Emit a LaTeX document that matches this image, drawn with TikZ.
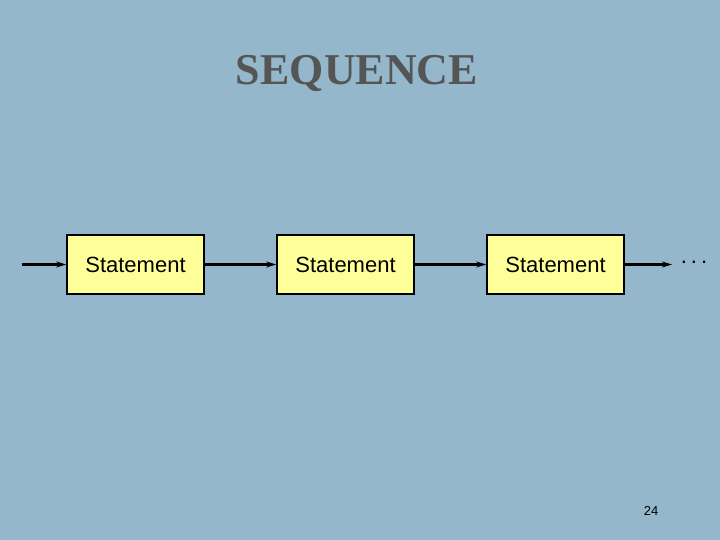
\documentclass[tikz,border=0pt]{standalone}
\usepackage{fontspec}
\setmainfont{Liberation Serif}
\setsansfont{Liberation Sans}
\usetikzlibrary{arrows.meta}
\definecolor{bg}{RGB}{148,183,204}
\definecolor{boxfill}{RGB}{255,255,153}
\definecolor{titlegray}{RGB}{85,85,85}
\begin{document}
\begin{tikzpicture}[x=1pt,y=-1pt,
  stmt/.style={draw=black,line width=1.5pt,fill=boxfill,minimum width=137pt,minimum height=59pt,inner sep=0pt,font=\sffamily\fontsize{22}{26}\selectfont},
  flow/.style={line width=2.5pt,-{Stealth[length=10pt,width=6pt]}}]
\fill[bg] (0,0) rectangle (720,540);
\useasboundingbox (0,0) rectangle (720,540);
\node[font=\bfseries\fontsize{44}{48}\selectfont,text=titlegray] (title) at (357,74) {SEQUENCE};
\node[stmt] (s1) at (135.5,264.5) {Statement};
\node[stmt] (s2) at (345.5,264.5) {Statement};
\node[stmt] (s3) at (555.5,264.5) {Statement};
\coordinate (in) at (22,264.5);
\coordinate (out) at (672,264.5);
\node[font=\sffamily\fontsize{22}{26}\selectfont] (dots) at (694,262) {.\hspace{4pt}.\hspace{4pt}.};
\draw[flow] (in) -- (s1);
\draw[flow] (s1) -- (s2);
\draw[flow] (s2) -- (s3);
\draw[flow] (s3) -- (out);
\node[font=\sffamily\fontsize{13}{15}\selectfont] (num) at (651,511) {24};
\end{tikzpicture}
\end{document}
